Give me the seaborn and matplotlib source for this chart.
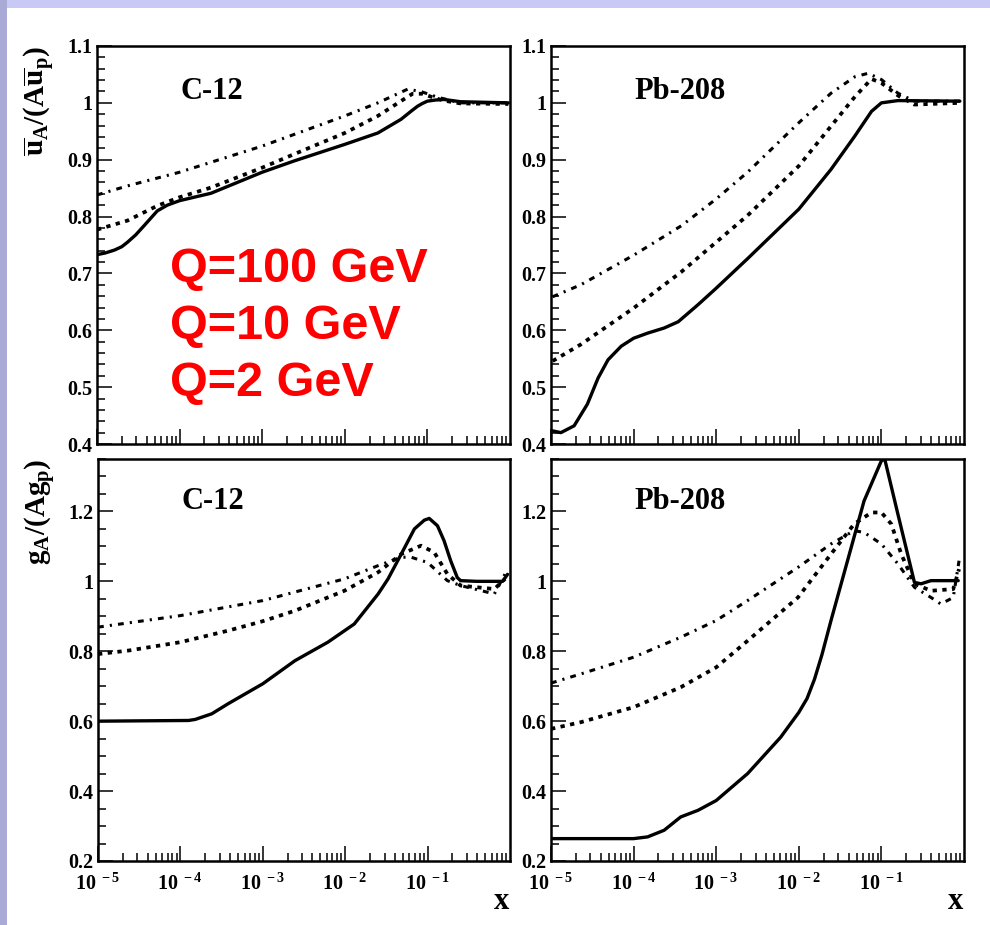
import numpy as np
import matplotlib
matplotlib.use("Agg")
import matplotlib.pyplot as plt
import seaborn as sns
from matplotlib.ticker import FixedLocator, FuncFormatter, MultipleLocator, LogLocator, NullFormatter
from matplotlib.patches import Rectangle

# ---------------- data: nuclear / proton ratios vs log10(x) ----------------
# ubar ratio, C-12
ub_c12_q2_lx = [-5.0, -4.9, -4.79, -4.7, -4.63, -4.53, -4.43, -4.35, -4.27, -4.15, -4.0, -3.62, -3.0, -2.61, -2.0, -1.6, -1.32, -1.2, -1.12, -1.06, -1.0, -0.9, -0.8, -0.6, -0.02]
ub_c12_q2_y = [0.733, 0.736, 0.741, 0.747, 0.755, 0.768, 0.784, 0.797, 0.81, 0.82, 0.828, 0.841, 0.878, 0.898, 0.927, 0.947, 0.971, 0.985, 0.994, 0.999, 1.003, 1.005, 1.006, 1.002, 1.0]
ub_c12_q10_lx = [-5.0, -4.63, -4.27, -4.0, -3.62, -3.0, -2.61, -2.0, -1.6, -1.3, -1.18, -1.06, -0.9, -0.8, -0.6, -0.02]
ub_c12_q10_y = [0.777, 0.793, 0.819, 0.834, 0.851, 0.886, 0.91, 0.947, 0.977, 1.005, 1.016, 1.016, 1.008, 1.004, 0.999, 0.998]
ub_c12_q100_lx = [-5.0, -4.63, -4.0, -3.0, -2.0, -1.6, -1.24, -1.08, -0.88, -0.6, -0.02]
ub_c12_q100_y = [0.838, 0.854, 0.878, 0.924, 0.977, 1.0, 1.024, 1.02, 1.01, 1.0, 1.0]

# ubar ratio, Pb-208
ub_pb_q2_lx = [-4.98, -4.88, -4.72, -4.56, -4.43, -4.31, -4.15, -4.0, -3.83, -3.63, -3.46, -3.22, -3.0, -2.62, -2.0, -1.61, -1.32, -1.12, -1.0, -0.8, -0.05]
ub_pb_q2_y = [0.423, 0.420, 0.432, 0.470, 0.516, 0.548, 0.572, 0.586, 0.595, 0.604, 0.615, 0.645, 0.674, 0.726, 0.813, 0.883, 0.942, 0.985, 1.0, 1.004, 1.003]
ub_pb_q10_lx = [-4.98, -4.64, -4.0, -3.42, -3.0, -2.62, -2.0, -1.61, -1.32, -1.12, -1.0, -0.8, -0.6, -0.05]
ub_pb_q10_y = [0.546, 0.575, 0.639, 0.703, 0.755, 0.802, 0.889, 0.959, 1.011, 1.042, 1.035, 1.013, 0.997, 1.0]
ub_pb_q100_lx = [-4.98, -4.64, -4.0, -3.42, -3.0, -2.62, -2.0, -1.61, -1.32, -1.16, -1.0, -0.8, -0.6, -0.05]
ub_pb_q100_y = [0.659, 0.68, 0.732, 0.784, 0.831, 0.878, 0.965, 1.017, 1.046, 1.052, 1.041, 1.017, 1.003, 1.003]

# gluon ratio, C-12
g_c12_q2_lx = [-5.0, -3.9, -3.82, -3.62, -3.42, -3.0, -2.61, -2.21, -1.89, -1.6, -1.48, -1.32, -1.16, -1.04, -0.98, -0.88, -0.8, -0.72, -0.64, -0.6, -0.4, -0.09, -0.03]
g_c12_q2_y = [0.6, 0.602, 0.605, 0.621, 0.65, 0.707, 0.773, 0.826, 0.878, 0.964, 1.007, 1.078, 1.15, 1.175, 1.18, 1.159, 1.116, 1.059, 1.011, 1.002, 1.0, 1.0, 1.02]
g_c12_q10_lx = [-5.0, -4.63, -4.0, -3.42, -3.0, -2.61, -2.01, -1.6, -1.32, -1.08, -0.92, -0.76, -0.6, -0.4, -0.19, -0.06]
g_c12_q10_y = [0.792, 0.802, 0.826, 0.859, 0.886, 0.916, 0.973, 1.026, 1.078, 1.102, 1.083, 1.021, 0.988, 0.983, 0.978, 1.007]
g_c12_q100_lx = [-5.0, -4.0, -3.0, -2.01, -1.6, -1.32, -1.2, -1.0, -0.76, -0.6, -0.19, -0.06]
g_c12_q100_y = [0.869, 0.902, 0.945, 1.007, 1.045, 1.069, 1.069, 1.054, 1.002, 0.988, 0.964, 1.021]

# gluon ratio, Pb-208
g_pb_q2_lx = [-5.0, -4.0, -3.83, -3.63, -3.43, -3.22, -3.0, -2.62, -2.22, -2.0, -1.9, -1.81, -1.72, -1.61, -1.41, -1.21, -1.0, -0.96, -0.8, -0.6, -0.52, -0.4, -0.07]
g_pb_q2_y = [0.264, 0.264, 0.269, 0.288, 0.326, 0.345, 0.373, 0.45, 0.554, 0.625, 0.665, 0.72, 0.79, 0.888, 1.059, 1.23, 1.345, 1.35, 1.192, 0.997, 0.993, 1.002, 1.002]
g_pb_q10_lx = [-5.0, -4.64, -4.0, -3.43, -3.0, -2.62, -2.01, -1.61, -1.33, -1.12, -1.0, -0.88, -0.76, -0.6, -0.4, -0.13, -0.06]
g_pb_q10_y = [0.578, 0.597, 0.64, 0.697, 0.754, 0.83, 0.954, 1.078, 1.164, 1.197, 1.197, 1.164, 1.078, 0.993, 0.973, 0.978, 1.035]
g_pb_q100_lx = [-5.0, -4.64, -4.0, -3.43, -3.0, -2.62, -2.01, -1.61, -1.33, -1.21, -1.0, -0.8, -0.6, -0.4, -0.28, -0.13, -0.06]
g_pb_q100_y = [0.709, 0.735, 0.783, 0.84, 0.888, 0.945, 1.04, 1.107, 1.145, 1.14, 1.107, 1.05, 0.983, 0.954, 0.935, 0.954, 1.059]

panel_titles = ["C-12", "Pb-208", "C-12", "Pb-208"]
scale_labels = ["Q=100 GeV", "Q=10 GeV", "Q=2 GeV"]
x_tick_exponents = [-5, -4, -3, -2, -1]

# ---------------- style ----------------
sns.set_style("white")
plt.rcParams.update({
    "font.family": ["Liberation Serif", "DejaVu Serif"],
    "font.weight": "bold",
    "text.color": "black",
    "axes.labelcolor": "black",
    "xtick.color": "black",
    "ytick.color": "black",
    "mathtext.fontset": "custom",
    "mathtext.rm": "Liberation Serif:bold",
    "mathtext.bf": "Liberation Serif:bold",
    "mathtext.it": "Liberation Serif:bold",
})

W, H = 990, 925
fig = plt.figure(figsize=(W / 100, H / 100), dpi=100)
fig.patch.set_facecolor("white")

# slide background strips
fig.patches.append(Rectangle((0, 1 - 8 / H), 1, 8 / H, transform=fig.transFigure,
                             facecolor="#c9c9f6", edgecolor="none", zorder=0))
fig.patches.append(Rectangle((0, 0), 7 / W, 1, transform=fig.transFigure,
                             facecolor="#aaaad6", edgecolor="none", zorder=0))


def box(l, r, t, b):
    return [l / W, 1 - b / H, (r - l) / W, (b - t) / H]


ax_tl = fig.add_axes(box(97, 510, 46, 444))
ax_tr = fig.add_axes(box(551, 964, 46, 444))
ax_bl = fig.add_axes(box(98, 510, 459, 861))
ax_br = fig.add_axes(box(551, 964, 459, 861))

solid = dict(color="black", lw=2.4, linestyle="-")
dotted = dict(color="black", lw=2.7, linestyle=(0, (1.15, 1.45)), dash_capstyle="butt")
dashdot = dict(color="black", lw=2.2, linestyle=(0, (1.9, 2.0, 0.7, 2.0)), dash_capstyle="butt")

panels = [
    (ax_tl, [(ub_c12_q100_lx, ub_c12_q100_y, dashdot), (ub_c12_q10_lx, ub_c12_q10_y, dotted), (ub_c12_q2_lx, ub_c12_q2_y, solid)]),
    (ax_tr, [(ub_pb_q100_lx, ub_pb_q100_y, dashdot), (ub_pb_q10_lx, ub_pb_q10_y, dotted), (ub_pb_q2_lx, ub_pb_q2_y, solid)]),
    (ax_bl, [(g_c12_q100_lx, g_c12_q100_y, dashdot), (g_c12_q10_lx, g_c12_q10_y, dotted), (g_c12_q2_lx, g_c12_q2_y, solid)]),
    (ax_br, [(g_pb_q100_lx, g_pb_q100_y, dashdot), (g_pb_q10_lx, g_pb_q10_y, dotted), (g_pb_q2_lx, g_pb_q2_y, solid)]),
]

fmt_y = FuncFormatter(lambda v, p: f"{v:g}")
fmt_x = FuncFormatter(lambda v, p: r"$\mathbf{10^{\ -%d}}$" % abs(int(round(np.log10(v)))))

for i, (ax, curves) in enumerate(panels):
    ax.set_facecolor("white")
    for lx, y, st in curves:
        sns.lineplot(x=10.0 ** np.asarray(lx), y=y, ax=ax, estimator=None, sort=False, **st)
    ax.set_xscale("log")
    ax.set_xlim(1e-5, 1.0)
    ax.xaxis.set_major_locator(FixedLocator([10.0 ** e for e in x_tick_exponents]))
    ax.xaxis.set_minor_locator(LogLocator(base=10, subs=np.arange(2, 10), numticks=20))
    ax.xaxis.set_minor_formatter(NullFormatter())
    if i < 2:
        ax.set_ylim(0.4, 1.1)
        ax.yaxis.set_major_locator(MultipleLocator(0.1))
        ax.yaxis.set_minor_locator(MultipleLocator(0.02))
        ax.xaxis.set_major_formatter(NullFormatter())
    else:
        ax.set_ylim(0.2, 1.35)
        ax.yaxis.set_major_locator(MultipleLocator(0.2))
        ax.yaxis.set_minor_locator(MultipleLocator(0.05))
        ax.xaxis.set_major_formatter(fmt_x)
        ax.text(0.98, -0.10, "x", transform=ax.transAxes, ha="center", va="center",
                fontsize=22, fontweight="bold")
    ax.yaxis.set_major_formatter(fmt_y)
    ax.tick_params(which="both", direction="in", bottom=True, left=True, top=False, right=False,
                   labelsize=14.5, width=1.1, color="black", labelcolor="black")
    ax.tick_params(which="major", length=10.8)
    ax.tick_params(which="minor", length=5.8)
    ax.tick_params(axis="y", pad=3.5)
    ax.tick_params(axis="x", pad=9)
    for lab in ax.get_xticklabels() + ax.get_yticklabels():
        lab.set_fontweight("bold")
    for sp in ax.spines.values():
        sp.set_visible(True)
        sp.set_color("black")
        sp.set_linewidth(1.8)
    ax.set_xlabel("")
    ax.set_ylabel("")
    ax.text(0.203, 0.885 if i < 2 else 0.895, panel_titles[i], transform=ax.transAxes,
            ha="left", va="center", fontsize=22, fontweight="bold", color="black")

ax_tl.set_ylabel(r"$\mathbf{\overline{u}_A/(A\overline{u}_p)}$", fontsize=21, loc="top", color="black")
ax_tl.yaxis.set_label_coords(-0.097, 1.0)
ax_bl.set_ylabel(r"$\mathbf{g_A/(Ag_p)}$", fontsize=21, loc="top", color="black")
ax_bl.yaxis.set_label_coords(-0.097, 1.0)

for k, txt in enumerate(scale_labels):
    fig.text(170 / W, 1 - (282 + 57 * k) / H, txt, color="#ff0000", ha="left", va="baseline",
             fontsize=35, fontweight="bold", family=["Liberation Sans", "DejaVu Sans"])

fig.savefig("out.png", dpi=100, facecolor=fig.get_facecolor())
